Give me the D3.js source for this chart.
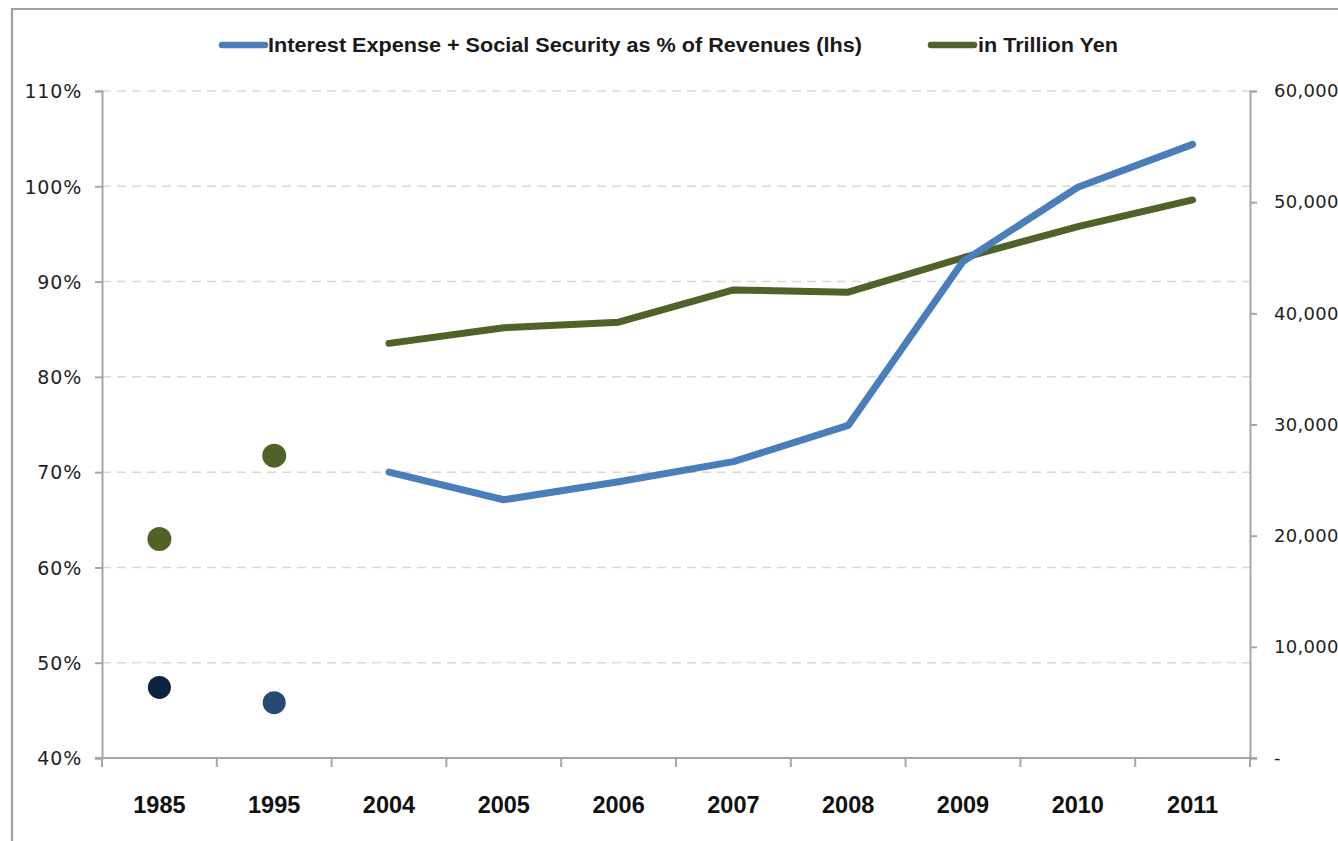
<!DOCTYPE html>
<html>
<head>
<meta charset="utf-8">
<script src="https://cdn.jsdelivr.net/npm/d3@7"></script>
<style>
  html, body { margin: 0; padding: 0; background: #fff; }
  svg { display: block; }
</style>
</head>
<body>
<svg id="chart" width="1338" height="841"></svg>
<script>
// Fiscal burden: interest expense + social security vs. revenues (Japan)
const categories = ['1985', '1995', '2004', '2005', '2006', '2007', '2008', '2009', '2010', '2011'];
// Interest expense + social security as % of revenues (left axis)
const pctOfRevenues = [47.4, 45.8, 70, 67.1, 69, 71.1, 74.9, 92.1, 99.9, 104.4];
// Same spending in trillion yen (right axis)
const trillionYen = [19700, 27200, 37300, 38700, 39200, 42100, 41900, 45000, 47800, 50200];
// Years shown as isolated markers rather than as part of the line
const markerYears = ['1985', '1995'];
const pctMarkerColors = ['#0e2340', '#284a72'];
const leftTicks = [40, 50, 60, 70, 80, 90, 100, 110];
const rightTicks = [0, 10000, 20000, 30000, 40000, 50000, 60000];
const legendLabels = ['Interest Expense + Social Security as % of Revenues (lhs)', 'in Trillion Yen'];

const BLUE = '#4a7ebb';
const GREEN = '#4f6228';
const AXIS = '#a6a6a6';
const GRID = '#d9d9d9';
const TEXT = '#1f1f1f';

const svg = d3.select('#chart');
const plot = { left: 102, right: 1250, top: 91, bottom: 758 };

const x = d3.scaleBand().domain(categories).range([plot.left, plot.right]).padding(0);
const yL = d3.scaleLinear().domain([40, 110]).range([plot.bottom, plot.top]);
const yR = d3.scaleLinear().domain([0, 60000]).range([plot.bottom, plot.top]);
const cx = d => x(d) + x.bandwidth() / 2;

// outer frame
svg.append('path')
  .attr('d', `M12,841 L12,9 L1338,9`)
  .attr('fill', 'none').attr('stroke', '#a0a0a0').attr('stroke-width', 2.2);

// dashed gridlines
svg.append('g').selectAll('line')
  .data(leftTicks.filter(t => t > 40))
  .join('line')
  .attr('x1', plot.left).attr('x2', plot.right)
  .attr('y1', d => yL(d)).attr('y2', d => yL(d))
  .attr('stroke', GRID).attr('stroke-width', 1.5).attr('stroke-dasharray', '9,6');

// left axis
const leftAxis = d3.axisLeft(yL).tickValues(leftTicks).tickFormat(d => d + '%').tickSize(7).tickPadding(13);
const gL = svg.append('g').attr('transform', `translate(${plot.left},0)`).call(leftAxis);
gL.select('.domain').attr('stroke', AXIS).attr('stroke-width', 2);
gL.selectAll('.tick line').attr('stroke', AXIS).attr('stroke-width', 2);
gL.selectAll('.tick text').attr('fill', TEXT)
  .style('font-family', 'DejaVu Sans, Verdana, sans-serif').style('font-size', '19px')
  .style('letter-spacing', '0.8px').attr('dy', '0.36em');

// right axis
const rightAxis = d3.axisRight(yR).tickValues(rightTicks)
  .tickFormat(d => d === 0 ? '-' : d3.format(',')(d)).tickSize(7).tickPadding(17);
const gR = svg.append('g').attr('transform', `translate(${plot.right},0)`).call(rightAxis);
gR.select('.domain').attr('stroke', AXIS).attr('stroke-width', 2);
gR.selectAll('.tick line').attr('stroke', AXIS).attr('stroke-width', 2);
gR.selectAll('.tick text').attr('fill', TEXT)
  .style('font-family', 'DejaVu Sans, Verdana, sans-serif').style('font-size', '18px')
  .style('letter-spacing', '0.3px');

// bottom axis: ticks at category boundaries, labels centred in each band
const boundaries = categories.map(c => x(c)).concat([plot.right]);
const gB = svg.append('g');
gB.append('line')
  .attr('x1', plot.left - 7).attr('x2', plot.right + 7)
  .attr('y1', plot.bottom).attr('y2', plot.bottom)
  .attr('stroke', AXIS).attr('stroke-width', 2);
gB.selectAll('line.tk').data(boundaries).join('line').attr('class', 'tk')
  .attr('x1', d => d).attr('x2', d => d)
  .attr('y1', plot.bottom).attr('y2', plot.bottom + 9)
  .attr('stroke', AXIS).attr('stroke-width', 2);
gB.selectAll('text').data(categories).join('text')
  .attr('x', d => cx(d)).attr('y', 813)
  .attr('text-anchor', 'middle')
  .attr('fill', '#111')
  .style('font-family', 'Liberation Sans, Arial, sans-serif')
  .style('font-weight', 'bold').style('font-size', '23.5px')
  .text(d => d);

// line series (years after the isolated markers)
const lineIdx = categories.map((c, i) => i).filter(i => !markerYears.includes(categories[i]));

const greenLine = d3.line().x(i => cx(categories[i])).y(i => yR(trillionYen[i]));
svg.append('path').datum(lineIdx).attr('d', greenLine)
  .attr('fill', 'none').attr('stroke', GREEN).attr('stroke-width', 7)
  .attr('stroke-linecap', 'round').attr('stroke-linejoin', 'round');

const blueLine = d3.line().x(i => cx(categories[i])).y(i => yL(pctOfRevenues[i]));
svg.append('path').datum(lineIdx).attr('d', blueLine)
  .attr('fill', 'none').attr('stroke', BLUE).attr('stroke-width', 7)
  .attr('stroke-linecap', 'round').attr('stroke-linejoin', 'round');

// isolated markers
const markerIdx = markerYears.map(y => categories.indexOf(y));
svg.append('g').selectAll('circle').data(markerIdx).join('circle')
  .attr('cx', i => cx(categories[i])).attr('cy', i => yR(trillionYen[i]))
  .attr('r', 12).attr('fill', GREEN);
svg.append('g').selectAll('circle').data(markerIdx).join('circle')
  .attr('cx', i => cx(categories[i])).attr('cy', i => yL(pctOfRevenues[i]))
  .attr('r', 11.5).attr('fill', (i, k) => pctMarkerColors[k]);

// legend
const legend = [
  { label: legendLabels[0], color: BLUE, x0: 222, x1: 265, tx: 268, tw: 594 },
  { label: legendLabels[1], color: GREEN, x0: 931, x1: 974, tx: 978, tw: 140 }
];
const gLeg = svg.append('g');
legend.forEach(l => {
  gLeg.append('line')
    .attr('x1', l.x0).attr('x2', l.x1).attr('y1', 45).attr('y2', 45)
    .attr('stroke', l.color).attr('stroke-width', 6.5).attr('stroke-linecap', 'round');
  gLeg.append('text')
    .attr('x', l.tx).attr('y', 52)
    .attr('textLength', l.tw).attr('lengthAdjust', 'spacingAndGlyphs')
    .attr('fill', '#1a1a1a')
    .style('font-family', 'Liberation Sans, Arial, sans-serif')
    .style('font-weight', 'bold').style('font-size', '21px')
    .text(l.label);
});
</script>
</body>
</html>
